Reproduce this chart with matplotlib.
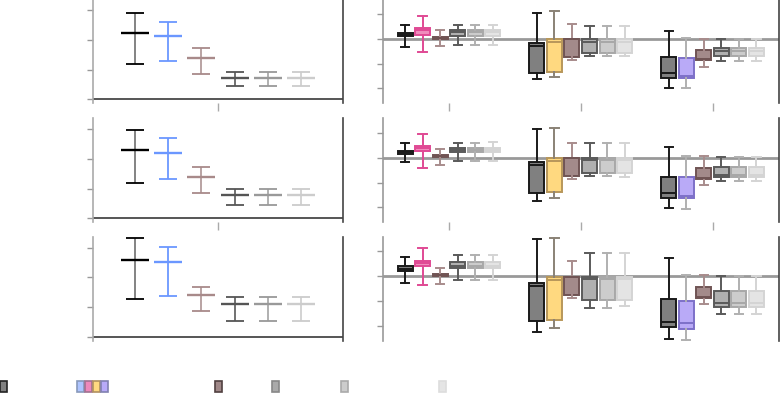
import matplotlib
matplotlib.use("Agg")
import matplotlib.pyplot as plt
from matplotlib.patches import Rectangle

# ---- data: left column, mean with low/high error ends (one row per panel)
err_mean = [
    [2.22, 2.13, 1.40, 0.72, 0.72, 0.72],
    [2.29, 2.20, 1.40, 0.79, 0.79, 0.79],
    [2.57, 2.50, 1.39, 1.09, 1.09, 1.09],
]
err_lo = [
    [1.18, 1.30, 0.85, 0.44, 0.44, 0.44],
    [1.19, 1.31, 0.85, 0.45, 0.45, 0.45],
    [1.26, 1.36, 0.85, 0.51, 0.51, 0.51],
]
err_hi = [
    [2.90, 2.61, 1.72, 0.91, 0.91, 0.91],
    [2.98, 2.71, 1.72, 1.00, 1.00, 1.00],
    [3.32, 3.02, 1.67, 1.35, 1.35, 1.35],
]

# ---- data: right column boxes, (whislo, q1, med, q3, whishi)
# box_stats[row][group][series]
box_stats = [
    [
        [(-0.31, 0.11, 0.17, 0.24, 0.58), (-0.54, 0.17, 0.38, 0.43, 0.91),
         (-0.28, 0.01, 0.05, 0.08, 0.36), (-0.25, 0.13, 0.26, 0.34, 0.55),
         (-0.25, 0.13, 0.26, 0.34, 0.55), (-0.25, 0.13, 0.26, 0.34, 0.55)],
        [(-1.63, -1.38, -0.27, -0.16, 1.05), (-1.53, -1.33, -0.13, 0.00, 1.13),
         (-0.86, -0.74, -0.01, 0.00, 0.62), (-0.67, -0.58, -0.11, 0.00, 0.51),
         (-0.67, -0.58, -0.11, 0.00, 0.51), (-0.67, -0.58, -0.11, 0.00, 0.54)],
        [(-1.99, -1.59, -1.38, -0.73, 0.30), (-1.99, -1.56, -1.50, -0.78, 0.04),
         (-1.12, -0.86, -0.83, -0.43, 0.01), (-0.89, -0.69, -0.50, -0.35, 0.00),
         (-0.89, -0.69, -0.50, -0.35, 0.00), (-0.89, -0.69, -0.50, -0.35, 0.00)],
    ],
    [
        [(-0.16, 0.17, 0.23, 0.28, 0.62), (-0.40, 0.27, 0.42, 0.47, 0.97),
         (-0.27, 0.04, 0.07, 0.11, 0.38), (-0.11, 0.23, 0.31, 0.39, 0.61),
         (-0.11, 0.23, 0.31, 0.39, 0.61), (-0.11, 0.23, 0.31, 0.39, 0.63)],
        [(-1.72, -1.41, -0.28, -0.17, 1.16), (-1.60, -1.37, -0.13, 0.00, 1.20),
         (-0.85, -0.73, -0.01, 0.00, 0.62), (-0.73, -0.62, -0.09, 0.00, 0.59),
         (-0.73, -0.62, -0.09, 0.00, 0.59), (-0.77, -0.62, -0.09, 0.00, 0.59)],
        [(-2.03, -1.62, -1.43, -0.78, 0.43), (-2.05, -1.63, -1.52, -0.79, 0.07),
         (-1.09, -0.85, -0.81, -0.42, 0.07), (-0.93, -0.77, -0.69, -0.38, 0.03),
         (-0.93, -0.77, -0.69, -0.38, 0.03), (-0.93, -0.77, -0.69, -0.38, 0.03)],
    ],
    [
        [(-0.28, 0.23, 0.30, 0.40, 0.79), (-0.34, 0.40, 0.52, 0.62, 1.12),
         (-0.31, 0.01, 0.05, 0.08, 0.35), (-0.17, 0.32, 0.43, 0.57, 0.86),
         (-0.17, 0.32, 0.43, 0.57, 0.86), (-0.17, 0.32, 0.43, 0.57, 0.86)],
        [(-2.27, -1.80, -0.39, -0.27, 1.52), (-2.10, -1.75, -0.16, -0.04, 1.53),
         (-0.87, -0.75, -0.05, -0.04, 0.62), (-1.28, -0.96, -0.11, -0.04, 0.92),
         (-1.28, -0.96, -0.11, -0.04, 0.92), (-1.22, -0.96, -0.11, -0.04, 0.92)],
        [(-2.54, -2.07, -1.84, -0.94, 0.75), (-2.58, -2.13, -1.90, -1.01, 0.05),
         (-1.12, -0.86, -0.83, -0.43, 0.04), (-1.52, -1.25, -1.08, -0.58, 0.01),
         (-1.52, -1.25, -1.08, -0.58, 0.01), (-1.52, -1.25, -1.08, -0.58, 0.01)],
    ],
]

# ---- styles
err_colors = ["#000000", "#6b97ff", "#a88a8a", "#555555", "#999999", "#cccccc"]
err_bar_colors = ["#7a7a7a", "#6b97ff", "#b39c9c", "#666666", "#aaaaaa", "#d0d0d0"]

# (face, edge, whisker)
sty_black = ("#808080", "#1a1a1a", "#1a1a1a")
sty_pink = ("#f08cbc", "#e04a94", "#e04a94")
sty_yellow = ("#ffd980", "#b8975a", "#8a8276")
sty_purple = ("#b9aaf7", "#7d70c8", "#b0b0b0")
sty_brown = ("#a38a8a", "#705454", "#a88c8c")
sty_grey = ("#b0b0b0", "#5a5a5a", "#5a5a5a")
sty_lgrey = ("#cccccc", "#a8a8a8", "#b0b0b0")
sty_llgrey = ("#e4e4e4", "#d4d4d4", "#d4d4d4")
group_second = [sty_pink, sty_yellow, sty_purple]

legend_faces = ["#808080", "#aec4ff", "#ee88bb", "#ffd880", "#b8aaf8",
                "#a08888", "#aaaaaa", "#cccccc", "#e5e5e5"]
legend_edges = ["#222222", "#8899bb", "#a07090", "#b09060", "#8080b0",
                "#504040", "#888888", "#aaaaaa", "#dddddd"]
legend_x = [0, 77, 85, 93, 101, 215, 272, 341, 439]

W, H = 780, 398
fig = plt.figure(figsize=(W / 100, H / 100), dpi=100)

row_top = [-0.7, 118.3, 236.6]
ax_h = 104

err_pos = [-2.5, -1.5, -0.5, 0.5, 1.5, 2.5]
box_off = [-2.5, -1.5, -0.5, 0.5, 1.5, 2.5]
box_step = 0.133
box_w = 0.114

for r in range(3):
    b = 1 - (row_top[r] + ax_h) / H
    axl = fig.add_axes([93 / W, b, 250 / W, ax_h / H])
    axr = fig.add_axes([383 / W, b, 395.5 / W, ax_h / H])

    # left: error bars with mean marks
    for i in range(6):
        m = err_mean[r][i]
        yerr = [[m - err_lo[r][i]], [err_hi[r][i] - m]]
        cont = axl.errorbar([err_pos[i]], [m], yerr=yerr, fmt="none",
                            ecolor=err_colors[i], elinewidth=1.3, capsize=6.3,
                            capthick=1.3, zorder=3)
        for bar in cont[2]:
            bar.set_color(err_bar_colors[i])
        axl.plot([err_pos[i]], [m], marker="_", ms=20, mew=1.7,
                 color=err_colors[i], ls="none", zorder=4)
    axl.axhline(0, color="#555555", lw=1.4, zorder=2)
    axl.set_xlim(-3.75, 3.75)
    axl.set_ylim(-0.135, 3.37)
    axl.set_yticks([0, 1, 2, 3])

    # right: boxes
    for g in range(3):
        styles = [sty_black, group_second[g], sty_brown, sty_grey, sty_lgrey, sty_llgrey]
        stats = []
        for s in box_stats[r][g]:
            stats.append(dict(whislo=s[0], q1=s[1], med=s[2], q3=s[3],
                              whishi=s[4], fliers=[]))
        pos = [g + o * box_step for o in box_off]
        res = axr.bxp(stats, positions=pos, widths=box_w, capwidths=box_w * 0.55,
                      patch_artist=True, showfliers=False, manage_ticks=False)
        for i, st in enumerate(styles):
            face, edge, whis = st
            res["boxes"][i].set_facecolor(face)
            res["boxes"][i].set_edgecolor(edge)
            res["boxes"][i].set_linewidth(1.4)
            res["medians"][i].set_color(edge)
            res["medians"][i].set_linewidth(1.4)
            for ln in res["whiskers"][2 * i:2 * i + 2] + res["caps"][2 * i:2 * i + 2]:
                ln.set_color(whis)
                ln.set_linewidth(1.4)
    axr.axhline(0, color="#999999", lw=2, zorder=1)
    axr.set_xlim(-0.5, 2.5)
    axr.set_ylim(-2.6, 1.6)
    axr.set_yticks([-2, -1, 0, 1])

    for ax, lcol in ((axl, "#aaaaaa"), (axr, "#999999")):
        ax.spines["top"].set_visible(False)
        ax.spines["bottom"].set_visible(False)
        ax.spines["left"].set_color(lcol)
        ax.spines["left"].set_linewidth(1.2)
        ax.spines["right"].set_color("#444444")
        ax.spines["right"].set_linewidth(1.2)
        ax.tick_params(axis="y", direction="out", length=4, width=1,
                       color="#999999", labelleft=False)
        ax.tick_params(axis="x", direction="out", length=6, width=1,
                       color="#aaaaaa", labelbottom=False)
        ax.set_facecolor("none")
    if r < 2:
        axl.set_xticks([0])
        axr.set_xticks([0, 1, 2])
    else:
        axl.set_xticks([])
        axr.set_xticks([])

# legend swatches along the bottom, labels are blank in the reference
for x, fc, ec in zip(legend_x, legend_faces, legend_edges):
    fig.add_artist(Rectangle((x / W, 6 / H), 7 / W, 11 / H, transform=fig.transFigure,
                             facecolor=fc, edgecolor=ec, lw=1.2))

fig.savefig("out.png", dpi=100)
